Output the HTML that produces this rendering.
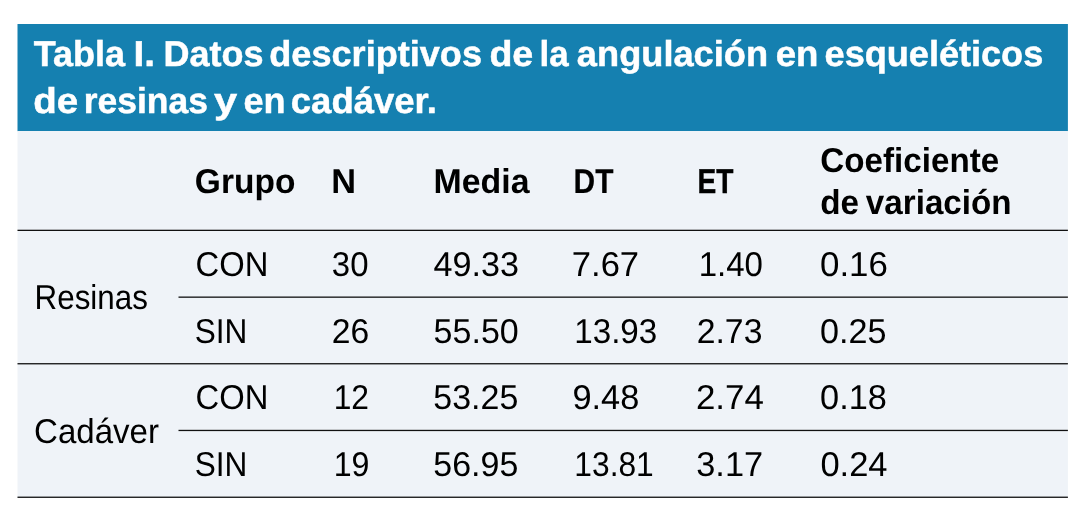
<!DOCTYPE html>
<html lang="es">
<head>
<meta charset="utf-8">
<title>Tabla I</title>
<style>
html,body{margin:0;padding:0;background:#fff;}
body{width:1078px;height:518px;position:relative;overflow:hidden;font-family:"Liberation Sans",sans-serif;}
.tbl{position:absolute;left:0;top:0;width:1078px;height:518px;}
.t{position:absolute;left:0;white-space:nowrap;line-height:1;text-rendering:geometricPrecision;transform-origin:0 0;font-family:"Liberation Sans",sans-serif;}
.ttl{color:#fff;font-weight:700;-webkit-text-stroke:0.5px #fff;}
.th{color:#000;font-weight:700;}
.td{color:#000;font-weight:400;}
svg.rules{position:absolute;left:0;top:0;}
table,caption,thead,tbody,tr,th,td{display:block;margin:0;padding:0;border:0;font-weight:inherit;text-align:left;}

</style>
</head>
<body>
<div class="tbl">
<svg class="rules" width="1078" height="518" viewBox="0 0 1078 518">
<rect class="cap" x="17.5" y="24" width="1050.4" height="107.2" fill="#1580b0"/>
<rect class="body" x="17.5" y="131" width="1050.4" height="366.9" fill="#eff3f8"/>
<g class="lines" fill="#111">
<rect x="17.5" y="229.7" width="1050.4" height="1.3"/>
<rect x="178.5" y="296.5" width="889.4" height="1.3"/>
<rect x="17.5" y="363.1" width="1050.4" height="1.3"/>
<rect x="178.5" y="429.8" width="889.4" height="1.3"/>
<rect x="17.5" y="496.6" width="1050.4" height="1.3"/>
</g>
</svg>

<table>
<caption>
<span class="t ttl" style="top:36px;font-size:36.0px;transform:translateX(33.74px) scaleX(0.9994)">Tabla</span>
<span class="t ttl" style="top:36px;font-size:36.0px;transform:translateX(133.60px) scaleX(1.0758)">I.</span>
<span class="t ttl" style="top:36px;font-size:36.0px;transform:translateX(163.52px) scaleX(1.0004)">Datos</span>
<span class="t ttl" style="top:36px;font-size:36.0px;transform:translateX(269.31px) scaleX(1.0029)">descriptivos</span>
<span class="t ttl" style="top:36px;font-size:36.0px;transform:translateX(489.42px) scaleX(1.0426)">de</span>
<span class="t ttl" style="top:36px;font-size:36.0px;transform:translateX(539.48px) scaleX(0.9679)">la</span>
<span class="t ttl" style="top:36px;font-size:36.0px;transform:translateX(576.87px) scaleX(1.0061)">angulación</span>
<span class="t ttl" style="top:36px;font-size:36.0px;transform:translateX(775.76px) scaleX(1.0154)">en</span>
<span class="t ttl" style="top:36px;font-size:36.0px;transform:translateX(824.57px) scaleX(1.0025)">esqueléticos</span>
<span class="t ttl" style="top:83px;font-size:36.0px;transform:translateX(33.37px) scaleX(1.0686)">de</span>
<span class="t ttl" style="top:83px;font-size:36.0px;transform:translateX(83.81px) scaleX(0.9838)">resinas</span>
<span class="t ttl" style="top:83px;font-size:36.0px;transform:translateX(214.11px) scaleX(1.1560)">y</span>
<span class="t ttl" style="top:83px;font-size:36.0px;transform:translateX(243.59px) scaleX(0.9992)">en</span>
<span class="t ttl" style="top:83px;font-size:36.0px;transform:translateX(290.83px) scaleX(1.0130)">cadáver.</span>
</caption>
<thead>
<tr>
<th></th>
<th><span class="t th" style="top:165px;font-size:34.5px;transform:translateX(194.87px) scaleX(0.9710)">Grupo</span></th>
<th><span class="t th" style="top:165px;font-size:34.5px;transform:translateX(331.28px) scaleX(0.9950)">N</span></th>
<th><span class="t th" style="top:165px;font-size:34.5px;transform:translateX(433.54px) scaleX(0.9816)">Media</span></th>
<th><span class="t th" style="top:165px;font-size:34.5px;-webkit-text-stroke:0.2px #000;transform:translateX(573.61px) scaleX(0.8675)">DT</span></th>
<th><span class="t th" style="top:165px;font-size:34.5px;-webkit-text-stroke:0.45px #000;transform:translateX(697.56px) scaleX(0.8144)">ET</span></th>
<th><span class="t th" style="top:144px;font-size:34.5px;transform:translateX(820.35px) scaleX(0.9620)">Coeficiente</span>
<span class="t th" style="top:186px;font-size:34.5px;transform:translateX(820.16px) scaleX(0.9639)">de</span>
<span class="t th" style="top:186px;font-size:34.5px;transform:translateX(865.84px) scaleX(0.9620)">variación</span></th>
</tr>
</thead>
<tbody>
<tr>
<th rowspan="2" scope="rowgroup"><span class="t td" style="top:281px;font-size:34.5px;transform:translateX(34.60px) scaleX(0.9088)">Resinas</span></th>
<td><span class="t td" style="top:248px;font-size:34.5px;transform:translateX(195.58px) scaleX(0.9488)">CON</span></td>
<td><span class="t td" style="top:248px;font-size:34.5px;transform:translateX(331.86px) scaleX(0.9552)">30</span></td>
<td><span class="t td" style="top:248px;font-size:34.5px;transform:translateX(433.62px) scaleX(0.9893)">49.33</span></td>
<td><span class="t td" style="top:248px;font-size:34.5px;transform:translateX(571.82px) scaleX(1.0018)">7.67</span></td>
<td><span class="t td" style="top:248px;font-size:34.5px;transform:translateX(698.68px) scaleX(0.9568)">1.40</span></td>
<td><span class="t td" style="top:248px;font-size:34.5px;transform:translateX(820.00px) scaleX(1.0109)">0.16</span></td>
</tr>
<tr>
<td><span class="t td" style="top:315px;font-size:34.5px;transform:translateX(194.73px) scaleX(0.9151)">SIN</span></td>
<td><span class="t td" style="top:315px;font-size:34.5px;transform:translateX(331.75px) scaleX(0.9760)">26</span></td>
<td><span class="t td" style="top:315px;font-size:34.5px;transform:translateX(433.60px) scaleX(0.9866)">55.50</span></td>
<td><span class="t td" style="top:315px;font-size:34.5px;transform:translateX(574.24px) scaleX(0.9618)">13.93</span></td>
<td><span class="t td" style="top:315px;font-size:34.5px;transform:translateX(696.74px) scaleX(0.9778)">2.73</span></td>
<td><span class="t td" style="top:315px;font-size:34.5px;transform:translateX(820.05px) scaleX(0.9890)">0.25</span></td>
</tr>
<tr>
<th rowspan="2" scope="rowgroup"><span class="t td" style="top:415px;font-size:34.5px;transform:translateX(34.01px) scaleX(0.9583)">Cadáver</span></th>
<td><span class="t td" style="top:381px;font-size:34.5px;transform:translateX(195.58px) scaleX(0.9488)">CON</span></td>
<td><span class="t td" style="top:381px;font-size:34.5px;transform:translateX(333.70px) scaleX(0.9211)">12</span></td>
<td><span class="t td" style="top:381px;font-size:34.5px;transform:translateX(433.33px) scaleX(0.9844)">53.25</span></td>
<td><span class="t td" style="top:381px;font-size:34.5px;transform:translateX(572.46px) scaleX(0.9949)">9.48</span></td>
<td><span class="t td" style="top:381px;font-size:34.5px;transform:translateX(695.91px) scaleX(1.0111)">2.74</span></td>
<td><span class="t td" style="top:381px;font-size:34.5px;transform:translateX(820.08px) scaleX(0.9939)">0.18</span></td>
</tr>
<tr>
<td><span class="t td" style="top:448px;font-size:34.5px;transform:translateX(194.73px) scaleX(0.9151)">SIN</span></td>
<td><span class="t td" style="top:448px;font-size:34.5px;transform:translateX(333.72px) scaleX(0.9312)">19</span></td>
<td><span class="t td" style="top:448px;font-size:34.5px;transform:translateX(433.33px) scaleX(0.9844)">56.95</span></td>
<td><span class="t td" style="top:448px;font-size:34.5px;transform:translateX(574.32px) scaleX(0.9201)">13.81</span></td>
<td><span class="t td" style="top:448px;font-size:34.5px;transform:translateX(696.26px) scaleX(0.9949)">3.17</span></td>
<td><span class="t td" style="top:448px;font-size:34.5px;transform:translateX(820.40px) scaleX(0.9999)">0.24</span></td>
</tr>
</tbody>
</table>
</div>
</body>
</html>
